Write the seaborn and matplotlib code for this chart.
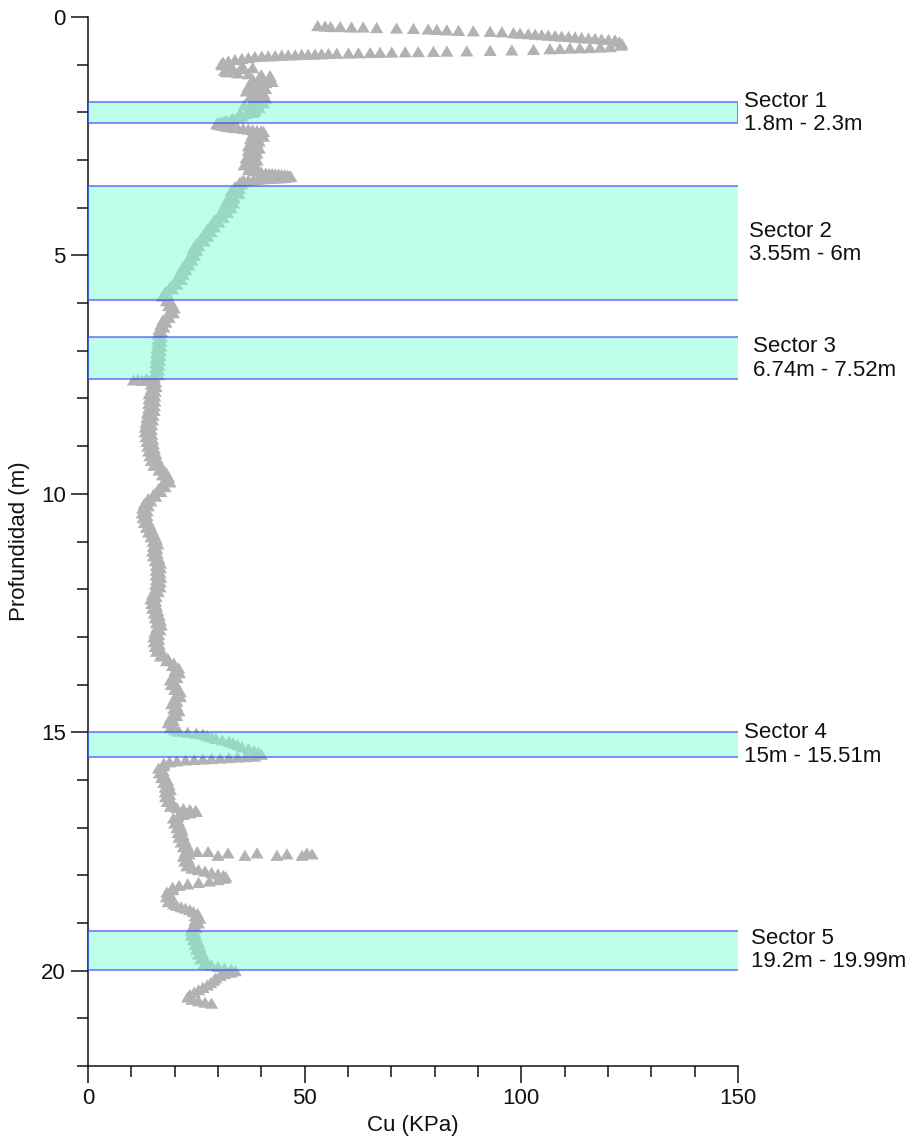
import numpy as np
import pandas as pd
import matplotlib
matplotlib.use("Agg")
import matplotlib.pyplot as plt
from matplotlib.ticker import MultipleLocator
import seaborn as sns

# ---------------- data (depth m, Cu KPa) ----------------
top_spike = [
    (0.18, 53.0), (0.19, 54.7), (0.20, 56.0), (0.20, 58.2), (0.21, 60.8), (0.21, 63.5),
    (0.22, 66.6), (0.23, 71.2), (0.24, 75.1), (0.25, 78.5), (0.26, 80.5), (0.27, 82.8),
    (0.28, 85.5), (0.29, 88.9), (0.30, 92.8), (0.31, 95.5), (0.33, 98.2), (0.34, 99.7),
    (0.35, 101.6), (0.36, 103.2), (0.37, 104.7), (0.38, 106.2), (0.39, 107.8), (0.40, 109.3),
    (0.41, 110.9), (0.42, 112.4), (0.43, 113.9), (0.44, 115.5), (0.45, 117.0), (0.46, 118.5),
    (0.47, 120.1), (0.48, 121.6), (0.52, 122.6), (0.56, 123.2), (0.59, 123.0),
    (0.62, 120.5), (0.63, 118.2), (0.64, 115.8), (0.645, 113.5), (0.65, 111.2), (0.66, 108.9),
    (0.665, 106.6), (0.68, 102.8), (0.69, 97.8), (0.70, 92.8), (0.71, 87.4), (0.715, 82.8),
    (0.72, 79.7), (0.725, 76.2), (0.73, 73.2), (0.735, 70.1), (0.74, 67.4), (0.745, 65.1),
    (0.75, 62.4), (0.755, 60.1), (0.76, 57.4), (0.765, 55.5), (0.77, 53.9), (0.775, 52.4),
    (0.78, 50.8), (0.785, 49.3), (0.79, 47.8), (0.795, 46.2), (0.80, 44.7), (0.81, 43.2),
    (0.815, 41.6), (0.82, 40.1), (0.83, 38.5), (0.85, 37.0), (0.87, 35.5), (0.89, 33.9),
    (0.92, 32.4), (0.95, 31.2), (0.98, 30.8),
]

upper_profile = [
    (1.00, 31.0), (1.02, 33.0), (1.04, 35.5), (1.06, 38.0), (1.08, 36.0), (1.10, 33.0),
    (1.12, 31.5), (1.15, 32.0), (1.17, 34.5), (1.19, 37.0), (1.21, 40.0), (1.23, 42.0),
    (1.25, 42.0), (1.275, 39.5), (1.30, 38.0), (1.325, 40.5), (1.35, 42.5), (1.375, 41.0),
    (1.40, 39.0), (1.425, 37.5), (1.45, 37.0), (1.475, 39.0), (1.50, 41.0), (1.525, 38.5),
    (1.55, 36.5), (1.575, 38.5), (1.60, 40.5), (1.625, 39.0), (1.65, 37.5), (1.675, 39.5),
    (1.70, 41.0), (1.725, 39.5), (1.75, 38.0), (1.775, 39.5), (1.80, 40.5), (1.825, 38.0),
    (1.85, 36.0), (1.875, 38.0), (1.90, 39.5), (1.925, 38.5), (1.95, 37.5), (1.975, 38.5),
    (2.00, 38.0), (2.025, 36.5), (2.05, 35.0), (2.075, 35.5), (2.10, 34.5), (2.125, 33.5),
    (2.15, 33.0), (2.165, 32.0), (2.18, 31.5), (2.195, 30.8), (2.21, 30.2), (2.225, 29.8),
    (2.24, 29.8), (2.255, 30.3), (2.27, 31.0), (2.285, 31.8), (2.30, 32.5), (2.31, 33.5),
    (2.32, 34.5), (2.335, 35.8), (2.35, 37.0), (2.365, 38.0), (2.38, 39.0), (2.39, 40.0),
    (2.40, 40.5), (2.425, 39.0), (2.45, 38.0), (2.475, 39.5), (2.50, 40.5), (2.525, 39.0),
    (2.55, 37.5), (2.575, 38.5), (2.60, 39.5), (2.625, 39.0), (2.65, 38.0), (2.675, 37.5),
    (2.70, 37.0), (2.725, 38.5), (2.75, 39.5), (2.775, 38.0), (2.80, 37.0), (2.825, 38.0),
    (2.85, 39.0), (2.875, 38.5), (2.90, 38.0), (2.925, 37.0), (2.95, 36.5), (2.975, 38.0),
    (3.00, 39.0), (3.025, 38.0), (3.05, 37.5), (3.075, 36.5), (3.10, 36.0), (3.125, 37.5),
    (3.15, 39.0), (3.175, 38.0), (3.20, 37.0), (3.225, 38.5), (3.25, 40.0), (3.27, 41.0),
    (3.28, 41.8), (3.285, 42.5), (3.29, 43.2), (3.295, 44.0), (3.30, 44.7), (3.31, 45.4),
    (3.32, 46.0), (3.33, 46.5), (3.34, 46.8), (3.35, 46.5), (3.36, 45.5), (3.37, 44.5),
    (3.375, 43.5), (3.38, 42.5), (3.385, 41.5), (3.39, 40.5), (3.40, 39.3), (3.41, 38.2),
    (3.42, 37.0), (3.43, 36.0), (3.44, 35.5), (3.47, 35.0),
]

mid_profile = [
    (3.50, 35.5), (3.55, 34.0), (3.60, 35.0), (3.65, 33.0), (3.70, 34.8), (3.75, 32.8),
    (3.80, 33.8), (3.85, 32.0), (3.90, 33.6), (3.95, 31.5), (4.00, 33.0), (4.05, 31.2),
    (4.10, 32.2), (4.15, 30.3), (4.20, 31.2), (4.25, 29.2), (4.30, 30.2), (4.35, 28.4),
    (4.40, 29.2), (4.45, 27.5), (4.50, 28.4), (4.55, 26.8), (4.60, 27.6), (4.65, 26.0),
    (4.70, 26.8), (4.75, 25.0), (4.80, 25.6), (4.85, 24.3), (4.90, 25.1), (4.95, 24.0),
    (5.00, 24.6), (5.05, 23.3), (5.10, 24.0), (5.15, 22.7), (5.20, 23.3), (5.25, 21.8),
    (5.30, 22.6), (5.35, 21.3), (5.40, 22.0), (5.45, 20.9), (5.50, 21.5), (5.55, 20.0),
    (5.60, 20.5), (5.65, 19.0), (5.70, 19.5), (5.75, 17.9), (5.80, 18.3), (5.85, 17.2),
    (5.90, 18.6), (5.95, 18.1), (6.00, 19.3), (6.05, 18.6), (6.10, 19.9), (6.15, 19.0),
    (6.20, 19.7), (6.25, 18.4), (6.30, 18.7), (6.35, 17.3), (6.40, 18.0), (6.45, 16.8),
    (6.50, 17.5), (6.55, 16.4), (6.60, 17.0), (6.65, 16.1), (6.70, 16.9), (6.75, 16.2),
    (6.80, 16.9), (6.85, 16.0), (6.90, 16.8), (6.95, 15.9), (7.00, 16.7), (7.05, 15.8),
    (7.10, 16.6), (7.15, 15.7), (7.20, 16.5), (7.25, 15.6), (7.30, 16.4), (7.35, 15.6),
    (7.40, 16.3), (7.45, 15.5), (7.50, 16.2), (7.55, 15.3), (7.58, 13.5), (7.60, 11.5),
    (7.61, 10.5), (7.62, 12.5), (7.65, 15.6), (7.70, 14.6), (7.75, 15.7), (7.80, 14.6),
    (7.85, 15.5), (7.90, 14.1), (7.95, 15.4), (8.00, 14.1), (8.05, 15.4), (8.10, 14.0),
    (8.15, 15.3), (8.20, 14.0), (8.25, 15.3), (8.30, 13.7), (8.35, 15.0), (8.40, 13.6),
    (8.45, 14.9), (8.50, 13.4), (8.55, 14.7), (8.60, 13.2), (8.65, 14.6), (8.70, 13.2),
    (8.75, 14.7), (8.80, 13.4), (8.85, 14.9), (8.90, 13.6), (8.95, 15.1), (9.00, 13.8),
    (9.05, 15.3), (9.10, 14.0), (9.15, 15.6), (9.20, 14.3), (9.25, 15.9), (9.30, 14.6),
    (9.35, 16.3), (9.40, 15.2), (9.45, 17.1), (9.50, 16.4), (9.55, 18.0), (9.60, 17.2),
    (9.65, 18.6), (9.70, 17.7), (9.75, 18.9), (9.80, 17.3), (9.85, 17.8), (9.90, 16.2),
    (9.95, 16.8), (10.00, 15.2), (10.05, 15.6), (10.10, 13.9), (10.15, 14.5), (10.20, 13.0),
    (10.25, 13.9), (10.30, 12.6), (10.35, 13.6), (10.40, 12.5), (10.45, 13.6), (10.50, 12.7),
    (10.55, 13.8), (10.60, 13.0), (10.65, 14.3), (10.70, 13.5), (10.75, 14.8), (10.80, 14.0),
    (10.85, 15.3), (10.90, 14.5), (10.95, 15.8), (11.00, 15.0), (11.05, 16.1), (11.10, 15.1),
    (11.15, 15.9), (11.20, 14.9), (11.25, 16.0), (11.30, 15.1), (11.35, 16.3), (11.40, 15.5),
    (11.45, 16.7), (11.50, 15.8), (11.55, 16.7), (11.60, 15.7), (11.65, 16.6), (11.70, 15.7),
    (11.75, 16.8), (11.80, 15.8), (11.85, 16.7), (11.90, 15.6), (11.95, 16.6), (12.00, 15.5),
    (12.05, 16.2), (12.10, 14.9), (12.15, 15.7), (12.20, 14.5), (12.25, 15.6), (12.30, 14.7),
    (12.35, 15.8), (12.40, 14.9), (12.45, 16.1), (12.50, 15.3), (12.55, 16.4), (12.60, 15.5),
    (12.65, 16.7), (12.70, 15.8), (12.75, 16.9), (12.80, 15.9), (12.85, 16.6), (12.90, 15.4),
    (12.95, 16.3), (13.00, 15.2), (13.05, 16.3), (13.10, 15.3), (13.15, 16.4), (13.20, 15.5),
    (13.25, 16.7), (13.30, 15.8), (13.35, 17.1), (13.40, 16.7), (13.45, 18.4), (13.50, 18.1),
    (13.55, 19.8), (13.60, 19.5), (13.65, 20.9), (13.70, 20.1), (13.75, 21.1), (13.80, 20.0),
    (13.85, 20.5), (13.90, 19.0), (13.95, 20.0), (14.00, 19.2), (14.05, 20.6), (14.10, 20.0),
    (14.15, 21.3), (14.20, 20.5), (14.25, 21.3), (14.30, 19.9), (14.35, 20.5), (14.40, 19.3),
    (14.45, 20.5), (14.50, 19.8), (14.55, 21.0), (14.60, 20.0), (14.65, 20.5), (14.70, 19.0),
    (14.75, 19.7), (14.80, 18.5), (14.85, 19.7), (14.90, 19.0), (14.95, 20.0),
]

spike_15m = [
    (14.98, 21.0), (15.00, 23.0), (15.02, 25.0), (15.04, 26.5), (15.07, 27.5), (15.10, 28.5),
    (15.13, 29.5), (15.16, 31.0), (15.19, 32.5), (15.22, 33.5), (15.26, 34.5), (15.30, 35.5),
    (15.34, 37.0), (15.38, 38.3), (15.42, 39.3), (15.46, 40.0), (15.50, 38.5), (15.51, 36.5),
    (15.52, 34.5), (15.53, 32.5), (15.54, 30.5), (15.55, 28.5), (15.56, 26.5), (15.57, 24.5),
    (15.58, 22.5), (15.60, 20.5), (15.62, 18.8), (15.65, 17.5),
]

lower_profile = [
    (15.70, 17.5), (15.75, 16.3), (15.80, 17.3), (15.85, 16.5), (15.90, 17.7), (15.95, 17.0),
    (16.00, 18.3), (16.05, 17.5), (16.10, 18.7), (16.15, 17.8), (16.20, 19.0), (16.25, 17.8),
    (16.30, 18.8), (16.35, 17.9), (16.40, 19.0), (16.45, 18.3), (16.50, 19.5), (16.55, 19.0),
    (16.58, 20.5), (16.60, 22.0), (16.62, 23.5), (16.64, 24.8), (16.66, 25.0), (16.69, 23.5),
    (16.72, 22.0), (16.76, 20.8), (16.80, 19.7), (16.85, 20.8), (16.90, 20.0), (16.95, 21.3),
    (17.00, 20.5), (17.05, 21.7), (17.10, 20.8), (17.15, 21.9), (17.20, 21.0), (17.25, 22.3),
    (17.30, 21.5), (17.35, 22.8), (17.40, 22.0), (17.45, 23.3), (17.50, 22.5), (17.55, 23.3),
    (17.60, 22.0), (17.65, 23.1), (17.70, 22.3), (17.75, 23.6), (17.80, 22.8), (17.85, 24.0),
    (17.88, 25.5), (17.91, 27.0), (17.94, 28.5), (17.97, 30.0), (18.00, 31.2), (18.03, 31.8),
    (18.06, 31.5), (18.09, 30.0), (18.12, 28.0), (18.15, 25.5), (18.18, 23.0), (18.21, 21.0),
    (18.25, 19.5), (18.30, 19.5), (18.35, 18.2), (18.40, 19.0), (18.45, 18.1), (18.50, 19.3),
    (18.55, 18.5), (18.60, 19.8), (18.63, 20.5), (18.66, 21.5), (18.69, 22.5), (18.72, 23.5),
    (18.76, 24.3), (18.80, 25.3), (18.85, 24.7), (18.90, 25.8), (18.95, 24.7), (19.00, 25.5),
    (19.05, 24.3), (19.10, 25.0), (19.15, 23.8), (19.20, 24.7), (19.25, 23.8), (19.30, 25.0),
    (19.35, 24.3), (19.40, 25.5), (19.45, 24.7), (19.50, 25.8), (19.55, 25.0), (19.60, 26.2),
    (19.65, 25.5), (19.70, 26.7), (19.75, 26.0), (19.80, 27.3), (19.85, 26.8), (19.88, 28.5),
    (19.91, 30.0), (19.94, 31.5), (19.97, 33.0), (20.00, 34.0), (20.03, 33.0), (20.06, 31.5),
    (20.10, 30.5), (20.15, 29.5), (20.20, 29.0), (20.25, 28.3), (20.30, 27.5), (20.35, 26.5),
    (20.40, 25.5), (20.45, 24.5), (20.50, 23.5), (20.55, 23.0), (20.60, 24.0), (20.63, 25.5),
    (20.66, 27.0), (20.68, 28.5),
]

outlier_17m = [
    (17.50, 25.2), (17.50, 27.7), (17.58, 30.0), (17.53, 32.3), (17.58, 36.2), (17.53, 39.0),
    (17.58, 43.6), (17.55, 45.9), (17.58, 49.4), (17.53, 50.5), (17.55, 51.7),
]

sector_names = ["Sector 1", "Sector 2", "Sector 3", "Sector 4", "Sector 5"]
sector_ranges = ["1.8m - 2.3m", "3.55m - 6m", "6.74m - 7.52m", "15m - 15.51m", "19.2m - 19.99m"]
sector_top = [1.79, 3.55, 6.72, 15.00, 19.16]
sector_bottom = [2.23, 5.93, 7.60, 15.51, 19.98]
sector_extent = [150.0, 151.2, 152.1, 150.2, 151.6]

x_ticks = [0, 50, 100, 150]
y_ticks = [0, 5, 10, 15, 20]

# ---------------- figure ----------------
sns.set_theme(style="ticks")
plt.rcParams["font.family"] = ["Liberation Sans", "DejaVu Sans"]

fig = plt.figure(figsize=(9.15, 11.41), dpi=100)
ax = fig.add_axes([0.0962, 0.0657, 0.7104, 0.9194])

pts = top_spike + upper_profile + mid_profile + spike_15m + lower_profile + outlier_17m
df = pd.DataFrame(pts, columns=["depth", "cu"])

tri = [(0.0, 0.85), (-1.0, -0.85), (1.0, -0.85)]
sns.scatterplot(data=df, x="cu", y="depth", marker=tri, s=90, color="#b2b2b2",
                linewidth=0, edgecolor="none", ax=ax, zorder=2, legend=False)

centers = [(t + b) / 2 for t, b in zip(sector_top, sector_bottom)]
heights = [b - t for t, b in zip(sector_top, sector_bottom)]
ax.barh(centers, sector_extent, height=heights, left=0,
        facecolor=(0.498, 1.0, 0.831, 0.5), edgecolor=(0.2, 0.2, 1.0, 0.55),
        linewidth=1.5, zorder=3)

for name, rng, ext, c in zip(sector_names, sector_ranges, sector_extent, centers):
    ax.annotate(f"{name}\n{rng}", xy=(ext, c), xytext=(4, 0), textcoords="offset points",
                ha="left", va="center", fontsize=16, linespacing=1.15,
                color="#111111", annotation_clip=False)

ax.set_xlim(0, 150)
ax.set_ylim(22, 0)
ax.set_xticks(x_ticks)
ax.set_yticks(y_ticks)
ax.xaxis.set_minor_locator(MultipleLocator(10))
ax.yaxis.set_minor_locator(MultipleLocator(1))
ax.tick_params(which="major", direction="out", length=12, width=1.1, color="#111111",
               labelsize=16, labelcolor="#111111", pad=4)
ax.tick_params(which="minor", direction="out", length=8, width=1.1, color="#111111")

for side in ["top", "right"]:
    ax.spines[side].set_visible(False)
for side in ["left", "bottom"]:
    ax.spines[side].set_linewidth(1.1)
    ax.spines[side].set_color("#111111")

ax.set_xlabel("Cu (KPa)", fontsize=16, color="#111111", labelpad=4)
ax.set_ylabel("Profundidad (m)", fontsize=16, color="#111111", labelpad=8)
ax.grid(False)

fig.savefig("out.png", dpi=100, facecolor="white")
